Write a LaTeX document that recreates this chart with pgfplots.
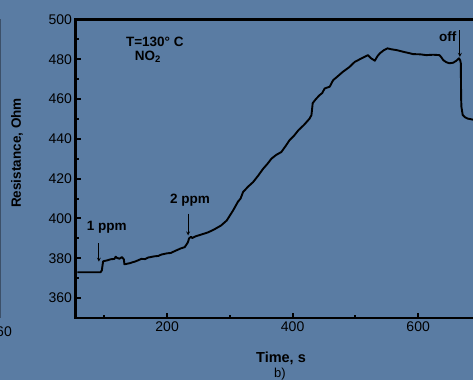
\documentclass[border=0pt]{standalone}
\usepackage{pgfplots}
\pgfplotsset{compat=1.18}
\usepackage{fontspec}
\setmainfont{Liberation Sans}
\definecolor{bgblue}{RGB}{90,124,163}
\definecolor{edgeline}{RGB}{60,80,105}
\pgfplotstableread{
t R
57 373
94 373
96 374
98 378.5
105 379
110 379.5
116 379.7
118 380.8
120 380.2
124 379.8
128 380.6
131 379.5
132 377
140 377.5
150 378.5
159 379.7
165 379.6
170 380.4
180 381
186 381.2
191 381.9
200 382.5
206 382.7
212 383.6
222 385
228 385.6
231 387
233 388
235 390
238 390.8
240 390.2
245 391
255 392
265 393
275 394.5
286 396.5
295 399
305 404
313 408.5
317 410
321 413.3
329 416
337 418.3
345 421.5
353 425
360 427.5
366 430
374 432
382 433.4
389 436.5
395 439.3
402 441.5
409 444.3
418 447
427 450.2
430 452
432 458
437 460
443 462
447 463
451 465.3
455 465.8
459 466.2
464.5 469.5
472 471.5
480 473.7
490 476
499 478.7
510 480.5
520 482.1
525 480.5
531 479.3
535 481.5
539 483
545 484.5
551 485.5
558 485
566 484.6
576 483.8
587 483
592 482.6
603 482.5
613 482.1
624 482.3
634 482.1
637 481
640 479.6
645 478.5
650 478
656 478.3
661 479.3
665 480.5
667 479.5
668 478
668.5 460
669 456
671 452
675 450.8
679 450.2
687 449.7
700 449.7
}\datatable
\begin{document}
\begin{tikzpicture}[x=1pt,y=1pt]
\useasboundingbox (0,0) rectangle (473,380);
\fill[bgblue] (0,0) rectangle (473,380);
\draw[edgeline, line width=0.8pt] (0.5,380-19.5) -- (0.5,380-318);
\node[anchor=east, inner sep=0pt, font=\fontsize{14}{16}\selectfont] at (12,48) {60};
\node[rotate=90, font=\bfseries\fontsize{13.5}{16}\selectfont] at (17,227) {Resistance, Ohm};
\node[font=\bfseries\fontsize{14.5}{17}\selectfont] at (281,22) {Time, s};
\node[anchor=north, inner sep=0pt, font=\fontsize{13}{15}\selectfont] at (280,12) {b)};
\begin{scope}
\clip (0,0) rectangle (473,380);
\begin{axis}[
  at={(75.5pt,62pt)}, anchor=south west,
  scale only axis, width=405.4pt, height=298.5pt,
  xmin=54, xmax=700, ymin=350, ymax=500,
  xtick={200,400,600}, minor xtick={100,300,500},
  ytick={360,380,...,500}, minor ytick={370,390,...,490},
  tick pos=left, tick align=inside,
  major tick length=5pt, minor tick length=3.5pt,
  every tick/.style={black, line width=2pt},
  axis line style={line width=2.6pt},
  ticklabel style={font=\fontsize{14}{16}\selectfont},
  /pgf/number format/assume math mode=true,
  /pgf/number format/set thousands separator={},
  clip=false,
]
\addplot[black, line width=1.9pt, line join=round] table[x=t,y=R] {\datatable};
\node[font=\bfseries\fontsize{13.5}{16}\selectfont] at (axis cs:103.9,395.5) {1 ppm};
\draw[-stealth, line width=0.8pt] (axis cs:91.2,387.6) -- (axis cs:91.2,378.3);
\node[font=\bfseries\fontsize{13.5}{16}\selectfont] at (axis cs:236.3,409.1) {2 ppm};
\draw[-stealth, line width=0.8pt] (axis cs:233.5,402.4) -- (axis cs:233.5,391.5);
\node[font=\bfseries\fontsize{13.5}{16}\selectfont] at (axis cs:647.3,491.2) {off};
\draw[-stealth, line width=0.8pt] (axis cs:666.5,494.7) -- (axis cs:666.5,481.2);
\node[font=\bfseries\fontsize{13.5}{16}\selectfont] at (axis cs:180.4,488.8) {T=130° C};
\node[font=\bfseries\fontsize{13.5}{16}\selectfont] at (axis cs:169.2,481.3) {NO\textsubscript{2}};
\end{axis}
\end{scope}
\end{tikzpicture}
\end{document}
